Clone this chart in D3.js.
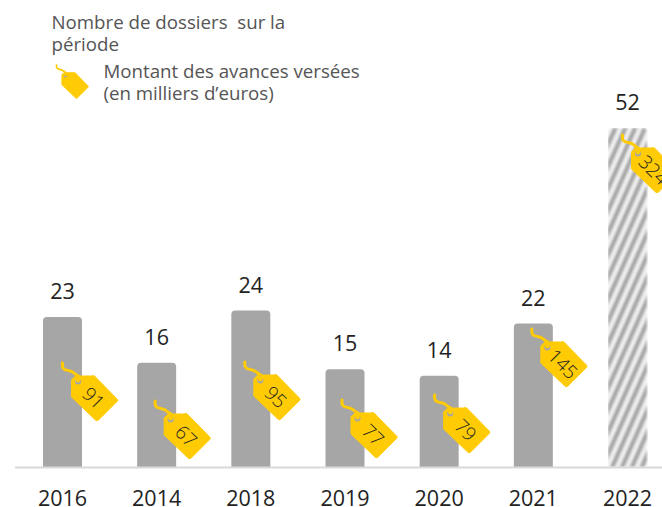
<!DOCTYPE html>
<html><head><meta charset="utf-8">
<script src="https://cdn.jsdelivr.net/npm/d3@7"></script>
<style>html,body{margin:0;padding:0;background:#fff}svg{display:block}text{font-family:"Open Sans",sans-serif}</style>
</head><body><div id="c"></div>
<script>
const categories = ["2016","2014","2018","2019","2020","2021","2022"];
const dossiers = [23,16,24,15,14,22,52];
const avances = [91,67,95,77,79,145,324];
const hatched = ["2022"];
const legendLines = ["Nombre de dossiers  sur la","période"];
const legendTagLines = ["Montant des avances versées","(en milliers d’euros)"];
// tag string anchor, relative to bar centre / absolute page height
const tagDx = [0,-1.5,-6,-3,-4.5,-1.5,-5];
const tagY = [363,401,362,400,395,329,135];

const W=662,H=507,base=467;
const svg=d3.select("#c").append("svg").attr("width",W).attr("height",H);
const x=d3.scaleBand().domain(categories).range([15.4,674.6]).paddingInner(0.586).paddingOuter(0.293);
const y=d3.scaleLinear().domain([0,52]).range([base,128]);

const defs=svg.append("defs");
const pat=defs.append("pattern").attr("id","hatch").attr("patternUnits","userSpaceOnUse")
  .attr("width",9).attr("height",9).attr("patternTransform","rotate(24)");
pat.append("rect").attr("width",9).attr("height",9).attr("fill","#f0f0f0");
pat.append("rect").attr("width",4.5).attr("height",9).attr("fill","#a6a6a6");
defs.append("filter").attr("id","soft").attr("x","0").attr("y","0").attr("width","1").attr("height","1")
  .append("feGaussianBlur").attr("stdDeviation",0.9);

function barPath(d){
  const x0=x(d),w=x.bandwidth(),t=y(dossiers[categories.indexOf(d)]),r=4;
  return `M${x0},${base}V${t+r}Q${x0},${t} ${x0+r},${t}H${x0+w-r}Q${x0+w},${t} ${x0+w},${t+r}V${base}Z`;
}
svg.append("g").selectAll("path").data(categories).join("path")
  .attr("d",barPath)
  .attr("filter",d=>hatched.includes(d)?"url(#soft)":null)
  .attr("fill",d=>hatched.includes(d)?"url(#hatch)":"#a6a6a6");

svg.append("line").attr("x1",15).attr("x2",W).attr("y1",base+0.5).attr("y2",base+0.5)
  .attr("stroke","#d9d9d9").attr("stroke-width",2);

svg.append("g").selectAll("text").data(categories).join("text")
  .attr("x",d=>x(d)+x.bandwidth()/2).attr("y",d=>y(dossiers[categories.indexOf(d)])-18)
  .attr("text-anchor","middle").attr("font-size",21.5).attr("fill","#222")
  .text(d=>dossiers[categories.indexOf(d)]);

svg.append("g").selectAll("text").data(categories).join("text")
  .attr("x",d=>x(d)+x.bandwidth()/2).attr("y",506)
  .attr("text-anchor","middle").attr("font-size",21.5).attr("fill","#222").text(d=>d);

function tag(g,label){
  g.append("path").attr("d","M0,0C-1,9 5,6 10,9C13,11 14,12 16,13").attr("fill","none")
   .attr("stroke","#ffcb05").attr("stroke-width",3).attr("stroke-linecap","round");
  g.append("path").attr("d","M9,17L13,13H29Q31,12 32,13L54.5,36Q56,37 54.5,38.5L36,57Q34.5,58.5 33,57L9,34Z")
   .attr("fill","#ffcb05").attr("stroke","#ffcb05").attr("stroke-linejoin","round").attr("stroke-width",1);
  g.append("circle").attr("cx",15.5).attr("cy",18.5).attr("r",3).attr("fill","#a6a6a6");
  g.append("circle").attr("cx",15.5).attr("cy",17).attr("r",2.4).attr("fill","#ffcb05");
  if(label!=null) g.append("text").attr("transform","translate(31,35) rotate(45)")
   .attr("text-anchor","middle").attr("dy","0.36em").attr("font-size",19).attr("font-weight",300).attr("fill","#222").text(label);
}
categories.forEach((c,i)=>{
  const g=svg.append("g").attr("transform",`translate(${x(c)+x.bandwidth()/2+tagDx[i]},${tagY[i]})`);
  tag(g,avances[i]);
});

const lg=svg.append("g").attr("font-size",18.7).attr("fill","#555");
lg.selectAll("text.a").data(legendLines).join("text").attr("class","a").attr("xml:space","preserve")
  .style("white-space","pre").attr("x",51.5).attr("y",(d,i)=>29+i*21.5).text(d=>d);
lg.selectAll("text.b").data(legendTagLines).join("text").attr("class","b")
  .attr("x",103.5).attr("y",(d,i)=>78+i*22).text(d=>d);
const lt=svg.append("g").attr("transform","translate(56.5,65) scale(0.58)");
tag(lt,null);
</script></body></html>
